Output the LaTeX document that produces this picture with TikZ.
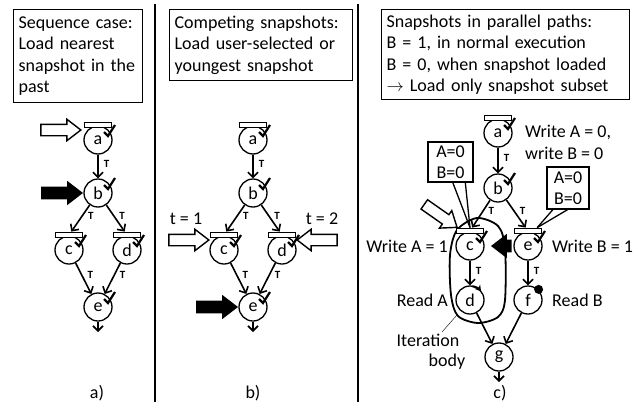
\documentclass[tikz,border=0pt]{standalone}
\usepackage{fontspec}
\setmainfont{Carlito}
\usetikzlibrary{calc}
\usetikzlibrary{arrows.meta}
\usetikzlibrary{shapes.arrows}

\begin{document}
\begin{tikzpicture}[x=1pt,y=-1pt,
    font=\fontsize{18}{21.5}\selectfont,
    infobox/.style={draw,line width=1.3pt,anchor=north west,align=left,inner xsep=5pt,inner ysep=2pt},
    smallbox/.style={draw,line width=1.3pt,align=center,inner sep=2pt},
    snapbar/.style={rectangle,draw,line width=1.3pt,fill=white,minimum width=27pt,minimum height=5.5pt,inner sep=0pt},
    tick/.style={line width=2.2pt},
    tlbl/.style={font=\fontsize{11}{11}\selectfont\bfseries,inner sep=1pt,right=4pt,pos=0.4},
    lbl/.style={inner sep=1pt},
    openarr/.style={single arrow,draw,line width=1.4pt,fill=white,inner sep=5pt,
        single arrow head extend=5pt,single arrow tip angle=75,minimum height=40pt,anchor=tip},
    blackarr/.style={openarr,fill=black}]

    \useasboundingbox (0,0) rectangle (635,402);

    % panel dividers
    \draw[line width=2pt] (155,4) -- (155,402);
    \draw[line width=2pt] (358,4) -- (358,402);

    % headline boxes
    \node[infobox,text width=119pt,minimum height=93pt] (boxA) at (13,9) {Sequence case:\\Load nearest\\snapshot in the\\past};
    \node[infobox,text width=173pt,minimum height=71pt] (boxB) at (169,9) {Competing snapshots:\\Load user-selected or\\youngest snapshot};
    \node[infobox,text width=238pt,minimum height=90pt] (boxC) at (381,9) {Snapshots in parallel paths:\\B = 1, in normal execution\\B = 0, when snapshot loaded\\$\rightarrow$ Load only snapshot subset};

    % iteration body loop in c)
    \draw[line width=1.8pt] plot[smooth cycle] coordinates {(451,295) (450,255) (457,230) (477,218) (498,226) (505,248) (505,300) (498,317) (478,323) (458,316)};

    % tasks, use the tuple for location
    \begin{scope}[every node/.style={circle,draw,line width=1.3pt,minimum size=28pt,inner sep=0pt,fill=white}]
    \node (A1) at (98,140) {a};
    \node (B1) at (98,193) {b};
    \node (C1) at (69,250) {c};
    \node (D1) at (127,250) {d};
    \node (E1) at (98,307) {e};

    \node (A2) at (253,140) {a};
    \node (B2) at (253,193) {b};
    \node (C2) at (224,250) {c};
    \node (D2) at (282,250) {d};
    \node (E2) at (253,307) {e};

    \node (A3) at (498,133) {a};
    \node (B3) at (498,188) {b};
    \node (C3) at (470,246) {c};
    \node (E3) at (528,246) {e};
    \node (D3) at (470,300) {d};
    \node (F3) at (528,300) {f};
    \node (G3) at (499,357) {g};
    \end{scope}

    % snapshot bars
    \begin{scope}[every node/.style={snapbar}]
    \node (Ab1) at (98,125) {};
    \node (Cb1) at (69,235) {};
    \node (Db1) at (127,235) {};
    \node (Ab2) at (253,125) {};
    \node (Cb2) at (224,235) {};
    \node (Db2) at (282,235) {};
    \node (Ab3) at (498,118) {};
    \node (Cb3) at (470,231) {};
    \node (Eb3) at (528,231) {};
    \end{scope}

    % checks
    \draw[tick] ([shift={(6,-8)}]A1.center) -- ++(4,4) -- ++(7,-11);
    \draw[tick] ([shift={(6,-8)}]B1.center) -- ++(4,4) -- ++(7,-11);
    \draw[tick] ([shift={(6,-8)}]C1.center) -- ++(4,4) -- ++(7,-11);
    \draw[tick] ([shift={(6,-8)}]D1.center) -- ++(4,4) -- ++(7,-11);
    \draw[tick] ([shift={(6,-8)}]E1.center) -- ++(4,4) -- ++(7,-11);
    \draw[tick] ([shift={(6,-8)}]A2.center) -- ++(4,4) -- ++(7,-11);
    \draw[tick] ([shift={(6,-8)}]B2.center) -- ++(4,4) -- ++(7,-11);
    \draw[tick] ([shift={(6,-8)}]C2.center) -- ++(4,4) -- ++(7,-11);
    \draw[tick] ([shift={(6,-8)}]D2.center) -- ++(4,4) -- ++(7,-11);
    \draw[tick] ([shift={(6,-8)}]E2.center) -- ++(4,4) -- ++(7,-11);
    \draw[tick] ([shift={(6,-8)}]A3.center) -- ++(4,4) -- ++(7,-11);
    \draw[tick] ([shift={(6,-8)}]B3.center) -- ++(4,4) -- ++(7,-11);
    \draw[tick] ([shift={(6,-8)}]C3.center) -- ++(4,4) -- ++(7,-11);
    \draw[tick] ([shift={(6,-8)}]E3.center) -- ++(4,4) -- ++(7,-11);
    \draw[line width=2pt,-{Stealth[length=6pt,width=7pt]}] ([shift={(-80:14)}]D3.center) arc (-80:-38:14);
    \fill ([shift={(-45:15)}]F3.center) circle (4.5pt);

    % free ends
    \coordinate (E1out) at (98,332);
    \coordinate (E2out) at (253,332);
    \coordinate (G3out) at (499,382);

    % control flow
    \begin{scope}[>={Straight Barb[length=5pt,width=10pt]},
              every edge/.style={draw,line width=1.6pt}]
    \path [->] (A1) edge node[tlbl] {T} (B1);
    \path [->] (B1) edge node[tlbl] {T} (Cb1);
    \path [->] (B1) edge node[tlbl] {T} (Db1);
    \path [->] (C1) edge node[tlbl] {T} (E1);
    \path [->] (D1) edge node[tlbl] {T} (E1);
    \path [->] (E1) edge (E1out);

    \path [->] (A2) edge node[tlbl] {T} (B2);
    \path [->] (B2) edge node[tlbl] {T} (Cb2);
    \path [->] (B2) edge node[tlbl] {T} (Db2);
    \path [->] (C2) edge node[tlbl] {T} (E2);
    \path [->] (D2) edge node[tlbl] {T} (E2);
    \path [->] (E2) edge (E2out);

    \path [->] (A3) edge node[tlbl] {T} (B3);
    \path [->] (B3) edge node[tlbl] {T} (Cb3);
    \path [->] (B3) edge node[tlbl] {T} (Eb3);
    \path [->] (C3) edge node[tlbl] {T} (D3);
    \path [->] (E3) edge node[tlbl] {T} (F3);
    \path [->] (D3) edge (G3);
    \path [->] (F3) edge (G3);
    \path [->] (G3) edge (G3out);
    \end{scope}

    % snapshot pointers
    \node[openarr] (inA1) at (82,130) {};
    \node[blackarr] (ldB1) at (83,193) {};
    \node[openarr] (inC2) at (210,240) {};
    \node[openarr,rotate=180] (inD2) at (296,240) {};
    \node[blackarr] (ldE2) at (238,307) {};
    \node[openarr,rotate=-35] (inC3) at (458,228) {};
    \node[blackarr,rotate=180,minimum height=18pt] (ldC3) at (491,246) {};
    \node[lbl] (t1) at (186,219) {t = 1};
    \node[lbl] (t2) at (322,219) {t = 2};

    % variable boxes in c)
    \node[smallbox,minimum width=45pt,minimum height=40pt] (BoxL) at (450.5,162) {A=0\\B=0};
    \node[smallbox,minimum width=42pt,minimum height=42pt] (BoxR) at (568,188) {A=0\\B=0};
    \draw[line width=1.3pt] ($(BoxL.south west)!0.55!(BoxL.south east)$) -- (Cb3.north);
    \draw[line width=1.3pt] ($(BoxL.south west)!0.82!(BoxL.south east)$) -- (Cb3.north);
    \draw[line width=1.3pt] ($(BoxR.south west)!0.15!(BoxR.south east)$) -- ($(Eb3.north)!0.65!(Eb3.north east)$);
    \draw[line width=1.3pt] ($(BoxR.south west)!0.49!(BoxR.south east)$) -- ($(Eb3.north)!0.65!(Eb3.north east)$);

    % annotations in c)
    \node[lbl,anchor=west] (wrA0) at (524,132) {Write A = 0,};
    \node[lbl,anchor=west] (wrB0) at (524,153) {write B = 0};
    \node[lbl,anchor=east] (wrA1) at (449,246) {Write A = 1};
    \node[lbl,anchor=west] (wrB1) at (551,246) {Write B = 1};
    \node[lbl,anchor=east] (rdA) at (449,300) {Read A};
    \node[lbl,anchor=west] (rdB) at (551,300) {Read B};
    \node[lbl] (iter) at (428,340) {Iteration};
    \node[lbl] (body) at (447,362) {body};
    \coordinate (itS) at (442,332);
    \coordinate (itE) at (457,315);
    \draw[thin] (itS) -- (itE);

    % panel captions
    \node[lbl] (capA) at (97,393) {a)};
    \node[lbl] (capB) at (253,393) {b)};
    \node[lbl] (capC) at (500,393) {c)};

\end{tikzpicture}
\end{document}
